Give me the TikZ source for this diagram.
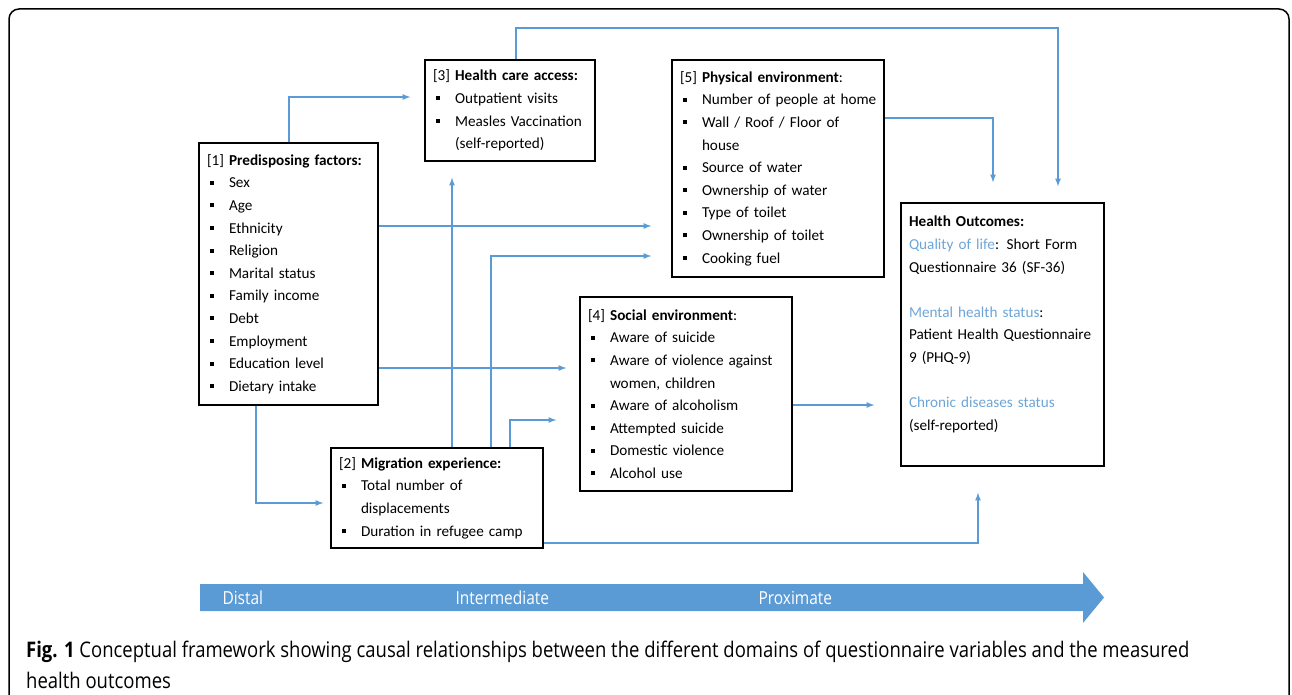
\documentclass[tikz,border=0pt]{standalone}
\usepackage{fontspec}
\setmainfont{Carlito}
\newfontfamily\capfont[FakeStretch=0.86]{Open Sans}
\usepackage{tikz}
\usetikzlibrary{shapes,arrows,positioning,calc}

\definecolor{lineblue}{RGB}{91,155,213}
\definecolor{textblue}{RGB}{110,165,215}
\newcommand{\bul}{\makebox[22pt][l]{\hspace{3pt}\rule[0.2em]{4pt}{4pt}}}
\newcommand{\cont}{\hspace*{22pt}}

\begin{document}
\begin{tikzpicture}[x=1pt,y=-1pt]
		\tikzstyle{Box}		= [draw, line width=1.4pt, rectangle, inner xsep=8pt, inner ysep=0pt, align=left, font=\fontsize{15.2}{22.6}\selectfont]
		\tikzstyle{Link}	= [draw=lineblue, line width=1.6pt, -latex]
		\tikzstyle{Scale}	= [text=white, font=\capfont\fontsize{18}{20}\selectfont]

		\useasboundingbox (0,0) rectangle (1292,695);
		\draw [line width=1.5pt, rounded corners=10pt] (9,720) -- (9,9) -- (1289,9) -- (1289,720);

		\node (pf) at (288.5,274) [Box, text width=163pt, minimum height=262pt]
			{[1] \textbf{Predisposing factors:}\\
			 \bul Sex\\ \bul Age\\ \bul Ethnicity\\ \bul Religion\\ \bul Marital status\\
			 \bul Family income\\ \bul Debt\\ \bul Employment\\ \bul Education level\\ \bul Dietary intake};
		\node (hc) at (510,110.5) [Box, text width=154pt, minimum height=101pt]
			{[3] \textbf{Health care access:}\\
			 \bul Outpatient visits\\ \bul Measles Vaccination\\ \cont(self-reported)};
		\node (pe) at (778,168.5) [Box, text width=196pt, minimum height=217pt]
			{[5] \textbf{Physical environment}:\\
			 \bul \mbox{Number of people at home}\\ \bul Wall / Roof / Floor of\\ \cont house\\
			 \bul Source of water\\ \bul Ownership of water\\ \bul Type of toilet\\
			 \bul Ownership of toilet\\ \bul Cooking fuel};
		\node (se) at (686,394) [Box, text width=196pt, minimum height=194pt]
			{[4] \textbf{Social environment}:\\
			 \bul Aware of suicide\\ \bul Aware of violence against\\ \cont women, children\\
			 \bul Aware of alcoholism\\ \bul Attempted suicide\\ \bul Domestic violence\\
			 \bul Alcohol use};
		\node (me) at (437,498) [Box, text width=196pt, minimum height=100pt]
			{[2] \textbf{Migration experience:}\\
			 \bul Total number of\\ \cont displacements\\ \bul Duration in refugee camp};
		\node (ho) at (1002.5,334.5) [Box, text width=187pt, minimum height=263pt]
			{\textbf{Health Outcomes:}\\
			 \textcolor{textblue}{Quality of life}: Short Form\\ Questionnaire 36 (SF-36)\\ \mbox{}\\
			 \textcolor{textblue}{Mental health status}:\\ Patient Health Questionnaire\\ 9 (PHQ-9)\\ \mbox{}\\
			 \textcolor{textblue}{Chronic diseases status}\\ (self-reported)\\ \mbox{}};

		% bends of the connectors
		\coordinate (k1) at (289,97);
		\coordinate (k2) at (516,28);
		\coordinate (k3) at (1058,28);
		\coordinate (k4) at (993,118);
		\coordinate (k5) at (0,226);
		\coordinate (k6) at (491,256);
		\coordinate (k7) at (452,0);
		\coordinate (k8) at (0,368);
		\coordinate (k9) at (510,420);
		\coordinate (k10) at (0,405);
		\coordinate (k11) at (978,543);
		\coordinate (k12) at (256,503);

		\draw [Link, shorten >=14pt] (pf.north -| k1) |- (hc.west |- k1);
		\draw [Link, shorten >=16pt] (hc.north -| k2) -- (k2) -- (k3) -- (ho.north -| k3);
		\draw [Link, shorten >=20pt] (pe.east |- k4) -| (ho.north -| k4);
		\draw [Link, shorten >=20pt] (pf.east |- k5) -- (pe.west |- k5);
		\draw [Link, shorten >=20pt] (me.north -| k6) |- (pe.west |- k6);
		\draw [Link, shorten >=16pt] (me.north -| k7) -- (hc.south -| k7);
		\draw [Link, shorten >=13pt] (pf.east |- k8) -- (se.west |- k8);
		\draw [Link, shorten >=23pt] (me.north -| k9) |- (se.west |- k9);
		\draw [Link, shorten >=26pt] (se.east |- k10) -- (ho.west |- k10);
		\draw [Link, shorten >=26pt] (me.east |- k11) -| (ho.south -| k11);
		\draw [Link, shorten >=7pt] (pf.south -| k12) |- (me.west |- k12);

		% distal - proximate scale
		\fill [lineblue] (200,584) -- (1083,584) -- (1083,572) -- (1104,597.5) -- (1083,623) -- (1083,611) -- (200,611) -- cycle;
		\node (distal) at (219,598) [Scale, anchor=west] {Distal};
		\node (inter) at (452,598) [Scale, anchor=west] {Intermediate};
		\node (prox) at (755,598) [Scale, anchor=west] {Proximate};

		\node (cap1) at (26,652) [anchor=west, inner sep=0pt, font=\capfont\fontsize{21.5}{28}\selectfont]
			{\textbf{Fig. 1} Conceptual framework showing causal relationships between the different domains of questionnaire variables and the measured};
		\node (cap2) at (26,680) [anchor=west, inner sep=0pt, font=\capfont\fontsize{21.5}{28}\selectfont]
			{health outcomes};
	\end{tikzpicture}
\end{document}
